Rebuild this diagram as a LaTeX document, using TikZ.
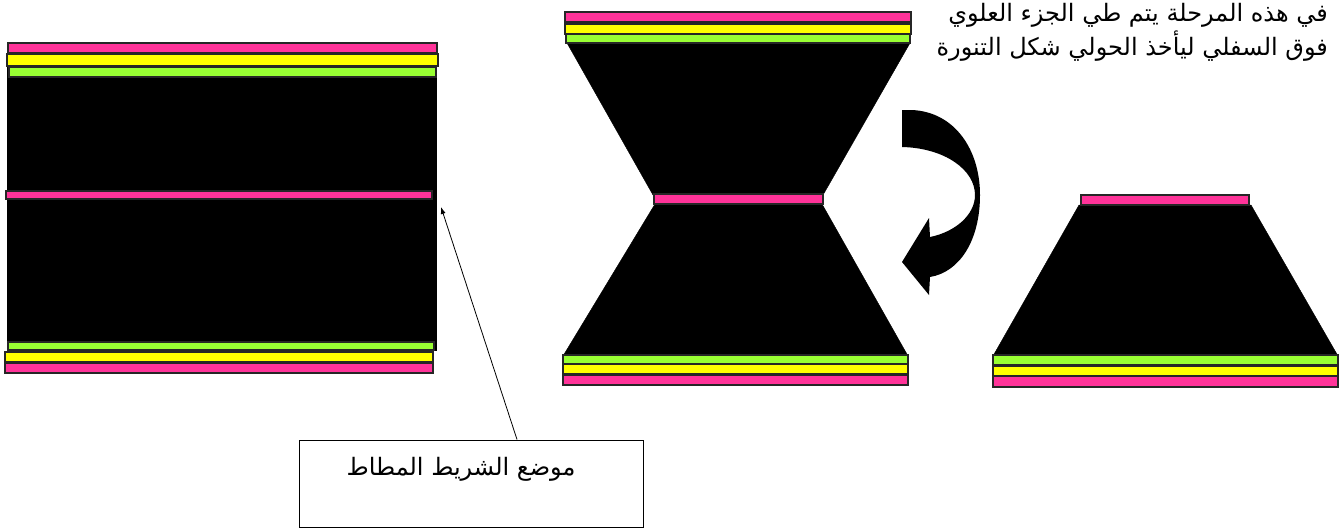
\documentclass[tikz,border=0pt]{standalone}
\usepackage{fontspec}
\usetikzlibrary{arrows.meta}
\newfontfamily\arabicfont[Script=Arabic]{DejaVu Sans}
\TeXXeTstate=1
\definecolor{lpink}{HTML}{FF3399}
\definecolor{lyellow}{HTML}{FFFF00}
\definecolor{lgreen}{HTML}{99FF33}
\begin{document}
\begin{tikzpicture}[x=1pt,y=-1pt,
  stripe/.style={draw=black!85,line width=1.1pt},
  body/.style={fill=black,draw=black},
  lbl/.style={font=\arabicfont\fontsize{24}{34}\selectfont,inner sep=0pt}]
\useasboundingbox (0,0) rectangle (1344,528);
% ---------- left block ----------
\fill[body] (7,67) rectangle (436,350);
\draw[stripe,fill=lpink] (8,43) rectangle (437,53);
\draw[stripe,fill=lyellow] (7,54) rectangle (438,66);
\draw[stripe,fill=lgreen] (9,67) rectangle (436,77);
\draw[stripe,fill=lpink] (6,191) rectangle (432,199);
\draw[stripe,fill=lgreen] (8,342) rectangle (434,350);
\draw[stripe,fill=lyellow] (5,352) rectangle (433,362);
\draw[stripe,fill=lpink] (5,363) rectangle (433,373);
% ---------- hourglass ----------
\fill[body] (567,43) -- (910,43) -- (823,195) -- (653,195) -- cycle;
\fill[body] (655,204) -- (822,204) -- (908,356) -- (563,356) -- cycle;
\draw[stripe,fill=lpink] (565,12) rectangle (911,22);
\draw[stripe,fill=lyellow] (565,24) rectangle (911,34);
\draw[stripe,fill=lgreen] (566,34) rectangle (910,43);
\draw[stripe,fill=lpink] (654,194) rectangle (823,204);
\draw[stripe,fill=lgreen] (563,355) rectangle (908,364);
\draw[stripe,fill=lyellow] (563,364) rectangle (908,374);
\draw[stripe,fill=lpink] (563,375) rectangle (908,385);
% ---------- right trapezoid ----------
\fill[body] (1079,205) -- (1251,205) -- (1338,356) -- (993,356) -- cycle;
\draw[stripe,fill=lpink] (1081,195) rectangle (1249,205);
\draw[stripe,fill=lgreen] (993,355) rectangle (1338,365);
\draw[stripe,fill=lyellow] (993,366) rectangle (1338,376);
\draw[stripe,fill=lpink] (993,376) rectangle (1338,387);
% ---------- curved arrow ----------
\fill[black] (902,110) -- (912,110)
  .. controls (955,112) and (980,150) .. (980,195)
  .. controls (980,240) and (960,272) .. (930,277)
  -- (929,295) -- (902,262) -- (929,218) -- (930,237)
  .. controls (955,232) and (975,215) .. (975,195)
  .. controls (975,170) and (945,148) .. (902,147) -- cycle;
% ---------- texts ----------
\node[lbl,anchor=north east,align=right] (note) at (1328,3)
  {\beginR في هذه المرحلة يتم طي الجزء العلوي\endR\\
   \beginR فوق السفلي ليأخذ الحولي شكل التنورة\endR};
\node[draw=black,line width=1pt,minimum width=344pt,minimum height=87pt,inner sep=0pt] (box) at (471,483.5) {};
\node[lbl,anchor=center] (boxtxt) at (461,469) {\beginR موضع الشريط المطاط\endR};
\coordinate (tip) at (441,207);
\draw[line width=0.8pt,-{Latex[length=7pt,width=5pt]}] ([xshift=46pt]box.north) -- (tip);
\end{tikzpicture}
\end{document}
